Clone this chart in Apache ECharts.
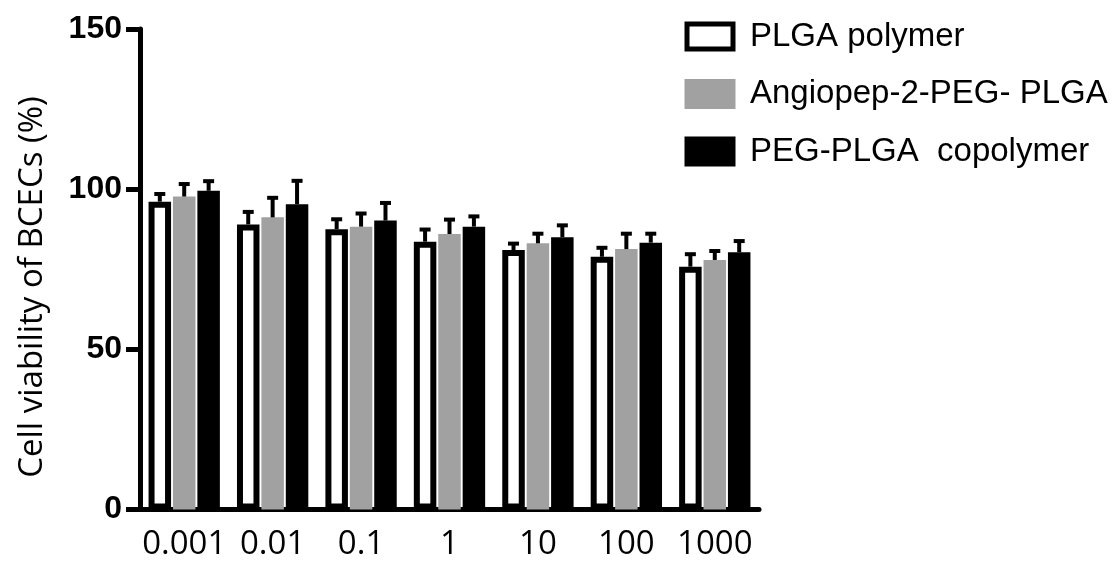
<!DOCTYPE html>
<html>
<head>
<meta charset="utf-8">
<script src="https://cdn.jsdelivr.net/npm/echarts@6/dist/echarts.min.js"></script>
<style>
  html, body { margin: 0; padding: 0; background: #fff; }
  #chart { width: 1112px; height: 566px; }
</style>
</head>
<body>
<div id="chart"></div>
<script>
// Concentrations (x categories)
const categories = ['0.001', '0.01', '0.1', '1', '10', '100', '1000'];
const yTicks = [0, 50, 100, 150];

// Mean cell viability (%) and upper SD for each material
const seriesNames = ['PLGA polymer', 'Angiopep-2-PEG- PLGA', 'PEG-PLGA  copolymer'];
const plgaMean = [96.1, 89.0, 87.5, 83.6, 81.0, 78.9, 75.8];
const plgaSD = [2.4, 3.9, 3.1, 3.8, 2.0, 2.8, 3.9];
const angioMean = [97.7, 91.2, 88.3, 86.0, 83.1, 81.3, 77.9];
const angioSD = [3.9, 6.1, 4.1, 4.5, 3.0, 4.8, 2.8];
const pegMean = [99.5, 95.3, 90.2, 88.3, 85.0, 83.3, 80.3];
const pegSD = [3.0, 7.3, 5.5, 3.2, 3.7, 2.8, 3.5];

const BAR_W = 22.5;
const BAR_GAP = 0.085;
const STEP = BAR_W * (1 + BAR_GAP);

const chart = echarts.init(document.getElementById('chart'));

function barSeries(name, data, fill, border) {
  return {
    name: name,
    type: 'bar',
    data: data,
    barWidth: BAR_W,
    barGap: (BAR_GAP * 100) + '%',
    itemStyle: { color: fill, borderColor: border, borderWidth: 6 },
    emphasis: { disabled: true },
    z: 2
  };
}

// Upper error bar (stem + cap) drawn through the axis coordinate system
function errorSeries(name, means, sds, offset) {
  return {
    name: name,
    type: 'custom',
    z: 3,
    silent: true,
    data: means.map((m, i) => [i, m, sds[i]]),
    renderItem: function (params, api) {
      const base = api.coord([api.value(0), api.value(1)]);
      const top = api.coord([api.value(0), api.value(1) + api.value(2)]);
      const x = base[0] + offset;
      const style = { stroke: '#000', lineWidth: 4, fill: null };
      return {
        type: 'group',
        children: [
          { type: 'line', shape: { x1: x, y1: base[1], x2: x, y2: top[1] }, style: style },
          { type: 'line', shape: { x1: x - 5.5, y1: top[1], x2: x + 5.5, y2: top[1] }, style: style }
        ]
      };
    }
  };
}

const option = {
  animation: false,
  backgroundColor: '#fff',
  grid: { left: 140, right: 353, top: 29, bottom: 56.5, containLabel: false },
  legend: {
    data: seriesNames,
    orient: 'vertical',
    left: 679.5,
    top: 15,
    itemWidth: 46,
    itemHeight: 25,
    itemGap: 24.5,
    icon: 'rect',
    itemStyle: { borderWidth: 5 },
    selectedMode: false,
    formatter: '{t|{name}}',
    textStyle: {
      color: '#000',
      fontFamily: 'Liberation Sans, Arial, sans-serif',
      fontSize: 33,
      rich: {
        t: {
          fontFamily: 'Liberation Sans, Arial, sans-serif',
          fontSize: 33,
          padding: [0, 0, 0, 12],
          color: '#000'
        }
      }
    }
  },
  xAxis: {
    type: 'category',
    data: categories,
    boundaryGap: true,
    axisLine: { lineStyle: { color: '#000', width: 5 } },
    axisTick: { alignWithLabel: true, length: 16, lineStyle: { color: '#000', width: 5 } },
    axisLabel: {
      interval: 0,
      color: '#000',
      fontFamily: 'Open Sans, sans-serif',
      fontSize: 33,
      margin: 19
    },
    splitLine: { show: false }
  },
  yAxis: {
    type: 'value',
    min: yTicks[0],
    max: yTicks[yTicks.length - 1],
    interval: 50,
    axisLine: { show: true, lineStyle: { color: '#000', width: 5 } },
    axisTick: { show: true, length: 14, lineStyle: { color: '#000', width: 5 } },
    axisLabel: {
      color: '#000',
      fontFamily: 'Liberation Sans, Arial, sans-serif',
      fontWeight: 'bold',
      fontSize: 32,
      margin: 18
    },
    splitLine: { show: false }
  },
  graphic: [{
    type: 'text',
    x: 33,
    y: 287,
    rotation: Math.PI / 2,
    style: {
      text: 'Cell viability of BCECs (%)',
      fontFamily: 'Open Sans, sans-serif',
      fontSize: 33,
      fill: '#000',
      align: 'center',
      verticalAlign: 'middle'
    }
  }],
  series: [
    barSeries(seriesNames[0], plgaMean, '#fff', '#000'),
    barSeries(seriesNames[1], angioMean, '#a1a1a1', '#a1a1a1'),
    barSeries(seriesNames[2], pegMean, '#000', '#000'),
    errorSeries('PLGA SD', plgaMean, plgaSD, -STEP),
    errorSeries('Angiopep SD', angioMean, angioSD, 0),
    errorSeries('PEG-PLGA SD', pegMean, pegSD, STEP)
  ]
};

chart.setOption(option);
</script>
</body>
</html>
